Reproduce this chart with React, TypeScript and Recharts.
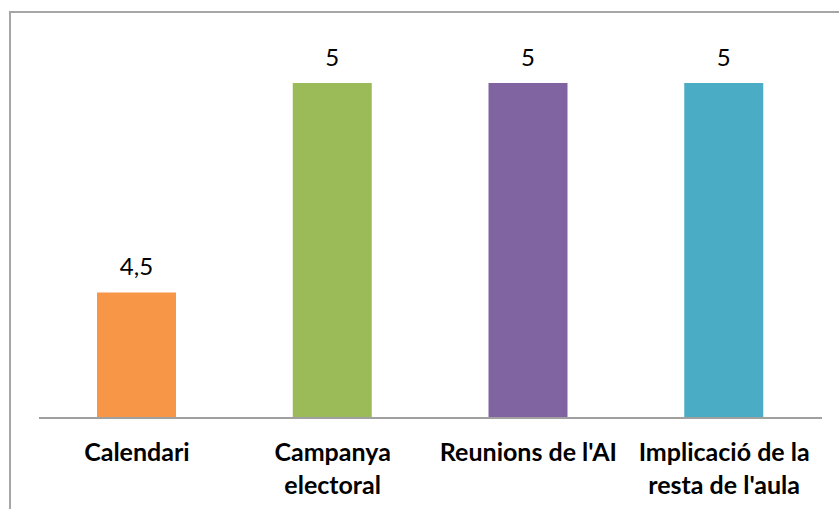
import { BarChart, Bar, XAxis, YAxis, Cell, LabelList } from 'recharts';

const categories = ['Calendari', 'Campanya electoral', "Reunions de l'AI", "Implicació de la resta de l'aula"];
const tickLines = [['Calendari'], ['Campanya', 'electoral'], ["Reunions de l'AI"], ['Implicació de la', "resta de l'aula"]];
const values = [4.5, 5, 5, 5];
const valueLabels = ['4,5', '5', '5', '5'];
const colors = ['#F79646', '#9BBB59', '#8064A2', '#4BACC6'];

const data = categories.map((name, i) => ({ name, value: values[i], label: valueLabels[i] }));

const FONT = 'Lato, "Open Sans", sans-serif';

function CategoryTick(props: any) {
    const { x, y, index } = props;
    const lines = tickLines[index] || [];
    return (
        <g transform={`translate(${x},${y})`}>
            {lines.map((line, i) => (
                <text
                    key={i}
                    x={0}
                    y={35 + i * 33}
                    textAnchor="middle"
                    fontFamily={FONT}
                    fontWeight="bold"
                    fontSize={25}
                    fill="#000"
                >
                    {line}
                </text>
            ))}
        </g>
    );
}

export default function App() {
    return (
        <div style={{ position: 'fixed', left: 0, top: 0, width: 839, height: 509, overflow: 'hidden', background: '#fff' }}>
            {/* chart frame, only left and top edges show in the crop */}
            <div style={{ position: 'absolute', left: 9, top: 11, width: 860, height: 540, border: '2px solid #a6a6a6' }} />
            <div style={{ position: 'absolute', left: 0, top: 0 }}>
                <BarChart width={839} height={509} data={data} margin={{ top: 83, right: 17, bottom: 0, left: 39 }}>
                    <XAxis
                        dataKey="name"
                        height={91}
                        interval={0}
                        tickLine={false}
                        axisLine={{ stroke: '#a0a0a0', strokeWidth: 2 }}
                        tick={<CategoryTick />}
                    />
                    <YAxis hide domain={[4.2, 5]} allowDataOverflow />
                    <Bar dataKey="value" barSize={79} isAnimationActive={false}>
                        {data.map((d, i) => (
                            <Cell key={d.name} fill={colors[i]} />
                        ))}
                        <LabelList
                            dataKey="label"
                            position="top"
                            offset={17}
                            style={{ fontFamily: FONT, fontSize: 24, fill: '#000' }}
                        />
                    </Bar>
                </BarChart>
            </div>
        </div>
    );
}
